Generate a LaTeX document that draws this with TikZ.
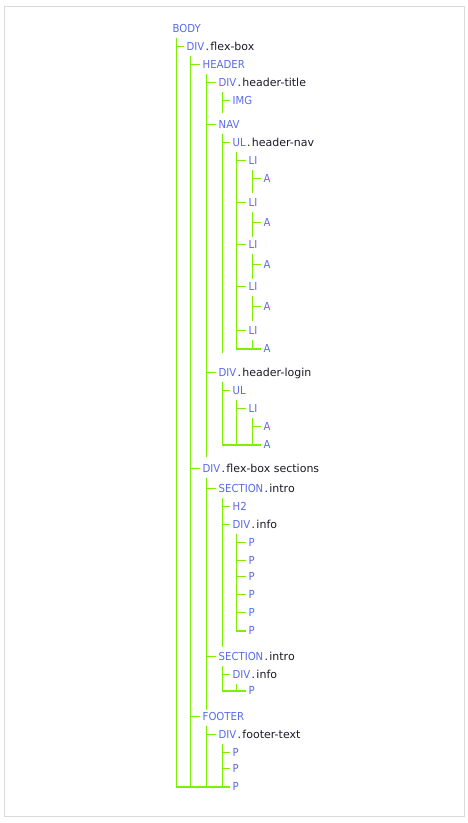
\documentclass[tikz,border=0pt]{standalone}
\usepackage{fontspec}
\setmainfont{DejaVu Sans}
\newfontfamily\tagfont{DejaVu Sans}[FakeStretch=0.92]
\newfontfamily\clsfont{DejaVu Sans}
\usetikzlibrary{calc}

\definecolor{tagblue}{RGB}{88,108,232}
\definecolor{clsdark}{RGB}{25,25,40}
\definecolor{treegreen}{RGB}{124,240,0}
\definecolor{framegray}{RGB}{218,218,218}

% element name in blue, class suffix in dark text
\newcommand\clsname[1]{{\clsfont\color{clsdark}\kern1.3bp.\kern1.3bp#1}}

\tikzset{
  tag/.style={anchor=west, inner sep=0pt, text height=8bp, text depth=0pt,
    font=\tagfont\fontsize{11bp}{13bp}\selectfont, text=tagblue},
  stem/.style={draw=treegreen, line width=1.1bp},
  branch/.style={draw=treegreen, line width=1.1bp},
  closer/.style={draw=treegreen, line width=2bp},
}

\begin{document}
\begin{tikzpicture}[x=1bp,y=-1bp]
\useasboundingbox (0,0) rectangle (468,823);
\draw[framegray, line width=1bp] (4.5,6.5) rectangle (464.5,816.5);

% ---- element labels (rows and indents on a 1px grid) ----
\node[tag] (n0) at (172.5,28.5)  {BODY};
\node[tag] (n1) at (186.5,46.5)  {DIV\clsname{flex-box}};
\node[tag] (n2) at (202.5,64.5)  {HEADER};
\node[tag] (n3) at (218.5,82.5)  {DIV\clsname{header-title}};
\node[tag] (n4) at (232.5,100.5) {IMG};
\node[tag] (n5) at (218.5,124.5) {NAV};
\node[tag] (n6) at (232.5,142.5) {UL\clsname{header-nav}};
\node[tag] (l1) at (248.5,160.5) {LI};
\node[tag] (a1) at (263.5,178.5) {A};
\node[tag] (l2) at (248.5,202.5) {LI};
\node[tag] (a2) at (263.5,222.5) {A};
\node[tag] (l3) at (248.5,244.5) {LI};
\node[tag] (a3) at (263.5,264.5) {A};
\node[tag] (l4) at (248.5,286.5) {LI};
\node[tag] (a4) at (263.5,306.5) {A};
\node[tag] (l5) at (248.5,330.5) {LI};
\node[tag] (a5) at (263.5,348.5) {A};
\node[tag] (n7) at (218.5,372.5) {DIV\clsname{header-login}};
\node[tag] (n8) at (232.5,390.5) {UL};
\node[tag] (n9) at (248.5,408.5) {LI};
\node[tag] (a6) at (263.5,426.5) {A};
\node[tag] (a7) at (263.5,444.5) {A};
\node[tag] (s0) at (202.5,468.5) {DIV\clsname{flex-box sections}};
\node[tag] (s1) at (218.5,488.5) {SECTION\clsname{intro}};
\node[tag] (h2) at (232.5,506.5) {H2};
\node[tag] (s2) at (232.5,524.5) {DIV\clsname{info}};
\node[tag] (p1) at (248.5,542.5) {P};
\node[tag] (p2) at (248.5,560.5) {P};
\node[tag] (p3) at (248.5,576.5) {P};
\node[tag] (p4) at (248.5,594.5) {P};
\node[tag] (p5) at (248.5,612.5) {P};
\node[tag] (p6) at (248.5,630.5) {P};
\node[tag] (s3) at (218.5,656.5) {SECTION\clsname{intro}};
\node[tag] (s4) at (232.5,674.5) {DIV\clsname{info}};
\node[tag] (p7) at (248.5,690.5) {P};
\node[tag] (f0) at (202.5,716.5) {FOOTER};
\node[tag] (f1) at (218.5,734.5) {DIV\clsname{footer-text}};
\node[tag] (p8) at (232.5,752.5) {P};
\node[tag] (p9) at (232.5,768.5) {P};
\node[tag] (p10) at (232.5,786.5) {P};

% ---- trunk tops: just under each parent label ----
\foreach \p in {n0,n1,n2,n3,n5,n6,l1,l2,l3,l4,l5,n7,n8,n9,s0,s1,s2,s3,s4,f0,f1}
  \coordinate (t-\p) at ($(\p.west)+(4,9)$);

% ---- vertical trunks ----
\draw[stem] (t-n0) -- ($(t-n0 |- p10.west)+(0,1.5)$);
\draw[stem] (t-n1) -- ($(t-n1 |- p10.west)+(0,1.5)$);
\draw[stem] (t-n2) -- ($(t-n2 |- a7.west)+(0,12)$);
\draw[stem] (t-n3) -- ($(t-n3 |- n4.west)+(0,12)$);
\draw[stem] (t-n5) -- ($(t-n5 |- a5.west)+(0,4.5)$);
\draw[stem] (t-n6) -- ($(t-n6 |- a5.west)+(0,1.5)$);
\draw[stem] (t-l1) -- ($(t-l1 |- a1.west)+(0,14)$);
\draw[stem] (t-l2) -- ($(t-l2 |- a2.west)+(0,14)$);
\draw[stem] (t-l3) -- ($(t-l3 |- a3.west)+(0,14)$);
\draw[stem] (t-l4) -- ($(t-l4 |- a4.west)+(0,14)$);
\draw[stem] (t-l5) -- ($(t-l5 |- a5.west)+(0,1.5)$);
\draw[stem] (t-n7) -- ($(t-n7 |- a7.west)+(0,1.5)$);
\draw[stem] (t-n8) -- ($(t-n8 |- a7.west)+(0,1.5)$);
\draw[stem] (t-n9) -- ($(t-n9 |- a7.west)+(0,1.5)$);
\draw[stem] (t-s0) -- ($(t-s0 |- p7.west)+(0,19)$);
\draw[stem] (t-s1) -- ($(t-s1 |- p6.west)+(0,16)$);
\draw[stem] (t-s2) -- ($(t-s2 |- p6.west)+(0,1.5)$);
\draw[stem] (t-s3) -- ($(t-s3 |- p7.west)+(0,1.5)$);
\draw[stem] (t-s4) -- ($(t-s4 |- p7.west)+(0,1.5)$);
\draw[stem] (t-f0) -- ($(t-f0 |- p10.west)+(0,1.5)$);
\draw[stem] (t-f1) -- ($(t-f1 |- p10.west)+(0,1.5)$);

% ---- branches from a trunk to each child label ----
\foreach \p/\c in {n0/n1, n1/n2, n1/s0, n1/f0, n2/n3, n2/n5, n2/n7, n3/n4,
    n5/n6, n6/l1, n6/l2, n6/l3, n6/l4, n6/l5, l1/a1, l2/a2, l3/a3, l4/a4,
    l5/a5, n7/n8, n8/n9, n9/a6, n9/a7, s0/s1, s0/s3, s1/h2, s1/s2,
    s2/p1, s2/p2, s2/p3, s2/p4, s2/p5, s2/p6, s3/s4, s4/p7,
    f0/f1, f1/p8, f1/p9, f1/p10}
  \draw[branch] ($(t-\p |- \c.west)+(-0.5,0)$) -- ($(\c.west)+(-3,0)$);

% ---- closing lines under the last child of a run of trunks ----
\draw[closer] ($(t-n6 |- a5.west)+(-0.5,0.5)$) -- ($(a5.west)+(-3,0.5)$);
\draw[closer] ($(t-n7 |- a7.west)+(-0.5,0.5)$) -- ($(a7.west)+(-3,0.5)$);
\draw[closer] ($(t-s2 |- p6.west)+(-0.5,0.5)$) -- ($(p6.west)+(-3,0.5)$);
\draw[closer] ($(t-s3 |- p7.west)+(-0.5,0.5)$) -- ($(p7.west)+(-3,0.5)$);
\draw[closer] ($(t-n0 |- p10.west)+(-0.5,0.5)$) -- ($(p10.west)+(-3,0.5)$);
\end{tikzpicture}
\end{document}
